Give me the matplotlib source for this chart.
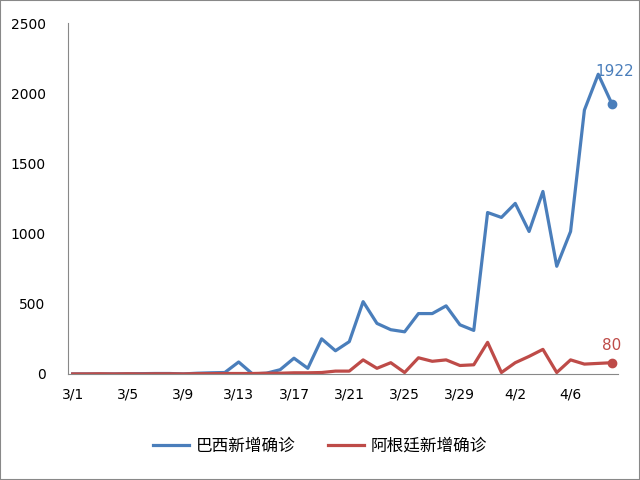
import numpy as np
import matplotlib.pyplot as plt
from matplotlib.patches import Rectangle

plt.rcParams['font.family'] = ['Noto Sans CJK SC', 'DejaVu Sans']

# dates 3/1 .. 4/9
dates = [f"3/{d}" for d in range(1, 32)] + [f"4/{d}" for d in range(1, 10)]

brazil = [0, 0, 0, 0, 1, 2, 3, 3, 0, 5, 8, 10,
          85, 0, 5, 30, 112, 40, 250, 165, 230, 515, 360, 315,
          300, 430, 430, 485, 350, 310, 1150, 1115, 1215, 1015, 1300, 767,
          1015, 1880, 2135, 1922]
argentina = [0, 0, 1, 0, 1, 0, 1, 1, 0, 2, 2, 3,
             3, 3, 5, 5, 8, 8, 10, 20, 20, 100, 40, 80,
             10, 115, 90, 100, 60, 65, 225, 10, 80, 125, 175, 10,
             100, 70, 75, 80]

blue = '#4a7ebb'
red = '#be4b48'
num_font = 'DejaVu Sans'

fig = plt.figure(figsize=(6.4, 4.8), dpi=100)
ax = fig.add_axes([0.106, 0.221, 0.859, 0.731])

x = np.arange(len(dates))
ax.plot(x, brazil, color=blue, lw=2.3, label='巴西新增确诊', solid_joinstyle='round')
ax.plot(x, argentina, color=red, lw=2.3, label='阿根廷新增确诊', solid_joinstyle='round')
ax.plot(x[-1], brazil[-1], 'o', color=blue, ms=6)
ax.plot(x[-1], argentina[-1], 'o', color=red, ms=6)
ax.annotate(str(brazil[-1]), (x[-1], brazil[-1]), xytext=(2, 18), textcoords='offset points',
            ha='center', va='bottom', color=blue, fontsize=11, family=num_font)
ax.annotate(str(argentina[-1]), (x[-1], argentina[-1]), xytext=(0, 7), textcoords='offset points',
            ha='center', va='bottom', color=red, fontsize=11, family=num_font)

ax.set_xlim(-0.35, 39.4)
ax.set_ylim(0, 2500)
ax.set_yticks(range(0, 2501, 500))
ax.set_xticks(x[::4])
ax.set_xticklabels(dates[::4])
ax.tick_params(length=0, labelsize=10, pad=10)
ax.tick_params(axis='y', pad=16)
for lab in ax.get_xticklabels() + ax.get_yticklabels():
    lab.set_family(num_font)
for s in ['top', 'right']:
    ax.spines[s].set_visible(False)
for s in ['left', 'bottom']:
    ax.spines[s].set_color('#888888')
    ax.spines[s].set_linewidth(0.8)

fig.legend(loc='center', bbox_to_anchor=(0.5, 0.07), ncol=2, frameon=False,
           fontsize=12, handlelength=2.2, handletextpad=0.4, columnspacing=1.9)

fig.patches.append(Rectangle((0, 0), 1, 1, transform=fig.transFigure, fill=False,
                             edgecolor='#888888', lw=1.5))

fig.savefig('out.png', dpi=100)
